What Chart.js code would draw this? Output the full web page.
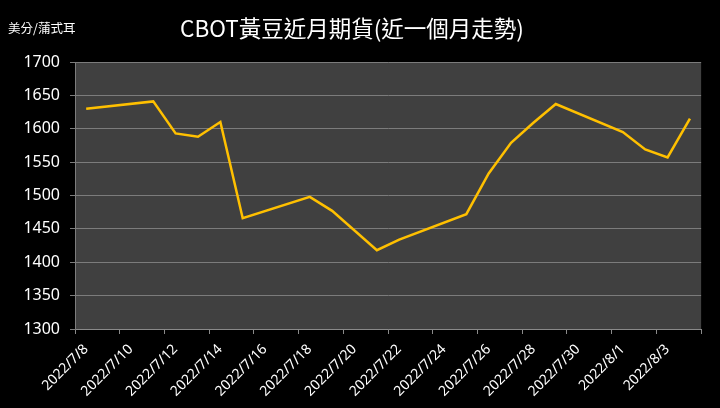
<!DOCTYPE html>
<html>
<head>
<meta charset="utf-8">
<script src="https://cdn.jsdelivr.net/npm/chart.js@4.4.0/dist/chart.umd.min.js"></script>
<style>
  html, body { margin: 0; padding: 0; background: #000; }
  #wrap { width: 720px; height: 408px; position: relative; }
</style>
</head>
<body>
<div id="wrap"><canvas id="myChart" width="720" height="408"></canvas></div>
<script>
// 資料 (美分/蒲式耳)
const startDate = '2022/7/8';
const totalDays = 28;
const dates = ['2022/7/8', '2022/7/11', '2022/7/12', '2022/7/13', '2022/7/14', '2022/7/15',
               '2022/7/18', '2022/7/19', '2022/7/21', '2022/7/22', '2022/7/25', '2022/7/26',
               '2022/7/27', '2022/7/28', '2022/7/29', '2022/8/1', '2022/8/2', '2022/8/3', '2022/8/4'];
const prices = [1630, 1641, 1593, 1588, 1610, 1466,
                1498, 1477, 1418, 1434, 1472, 1533,
                1579, 1609, 1637, 1595, 1569, 1557, 1615];
const tickLabels = ['2022/7/8', '2022/7/10', '2022/7/12', '2022/7/14', '2022/7/16', '2022/7/18',
                    '2022/7/20', '2022/7/22', '2022/7/24', '2022/7/26', '2022/7/28', '2022/7/30',
                    '2022/8/1', '2022/8/3'];
const yTicks = [1300, 1350, 1400, 1450, 1500, 1550, 1600, 1650, 1700];
const chartTitle = 'CBOT黃豆近月期貨(近一個月走勢)';
const unitLabel = '美分/蒲式耳';

// 日期 -> 第幾天 (放在當天格子的中間)
function dayIndex(s) {
    const p = s.split('/').map(Number);
    const q = startDate.split('/').map(Number);
    const d1 = Date.UTC(p[0], p[1] - 1, p[2]);
    const d0 = Date.UTC(q[0], q[1] - 1, q[2]);
    return (d1 - d0) / 86400000;
}
const points = dates.map((d, i) => ({ x: dayIndex(d) + 0.5, y: prices[i] }));

const cjk = '"Noto Sans CJK TC", "Noto Sans", sans-serif';

// 背景與單位文字
const bgPlugin = {
    id: 'bgPlugin',
    beforeDraw(chart) {
        const c = chart.ctx, a = chart.chartArea;
        c.save();
        c.fillStyle = '#000';
        c.fillRect(0, 0, chart.width, chart.height);
        c.fillStyle = '#404040';
        c.fillRect(a.left, a.top, a.right - a.left, a.bottom - a.top);
        c.restore();
    },
    afterDraw(chart) {
        const c = chart.ctx;
        c.save();
        c.fillStyle = '#fff';
        c.font = '12.5px ' + cjk;
        c.textBaseline = 'middle';
        c.fillText(unitLabel, 8, 28);
        c.restore();
    }
};

var ctx = document.getElementById('myChart').getContext('2d');
var myChart = new Chart(ctx, {
    type: 'line',
    data: {
        datasets: [{
            label: 'CBOT',
            data: points,
            borderColor: '#FFC000',
            borderWidth: 2.5,
            pointRadius: 0,
            tension: 0
        }]
    },
    options: {
        responsive: false,
        animation: false,
        layout: { padding: { left: 0, right: 16, top: 0, bottom: 0 } },
        plugins: {
            legend: { display: false },
            tooltip: { enabled: false },
            title: {
                display: true,
                text: chartTitle,
                color: '#fff',
                font: { family: cjk, size: 22.5, weight: 'normal' },
                padding: { top: 15, bottom: 20 }
            }
        },
        scales: {
            x: {
                type: 'linear',
                min: 0,
                max: totalDays,
                afterBuildTicks(scale) {
                    scale.ticks = [];
                    for (let v = 0; v <= totalDays; v += 2) scale.ticks.push({ value: v });
                },
                afterFit(scale) { scale.height = 79; },
                grid: { drawOnChartArea: false, color: '#8a8a8a', tickLength: 5 },
                border: { color: '#8a8a8a' },
                ticks: {
                    autoSkip: false,
                    minRotation: 45,
                    maxRotation: 45,
                    labelOffset: 11,
                    padding: 7,
                    color: '#fff',
                    font: { family: '"Noto Sans", sans-serif', size: 14 },
                    callback: (v) => tickLabels[v / 2] || ''
                }
            },
            y: {
                min: 1300,
                max: 1700,
                afterBuildTicks(scale) {
                    scale.ticks = yTicks.map(v => ({ value: v }));
                },
                afterFit(scale) { scale.width = 75; },
                grid: { color: '#7c7c7c', lineWidth: 1, tickLength: 5 },
                border: { color: '#7c7c7c' },
                ticks: {
                    color: '#fff',
                    padding: 10,
                    font: { family: '"Noto Sans", sans-serif', size: 16 },
                    callback: (v) => String(v)
                }
            }
        }
    },
    plugins: [bgPlugin]
});
</script>
</body>
</html>
